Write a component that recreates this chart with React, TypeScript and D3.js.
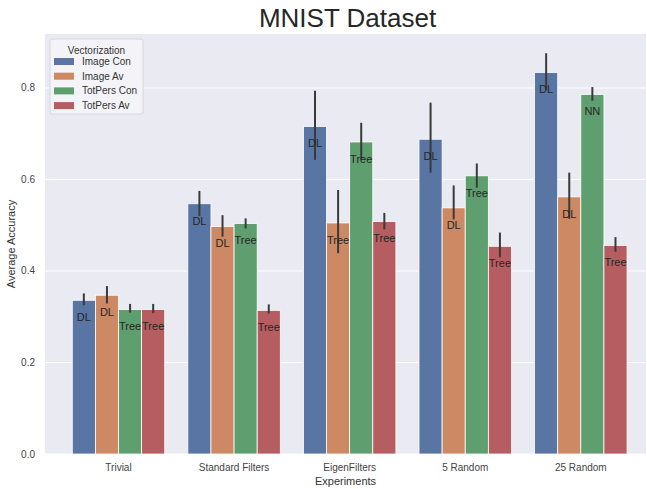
import React from 'react';
import * as d3 from 'd3';

const experiments = ['Trivial', 'Standard Filters', 'EigenFilters', '5 Random', '25 Random'];
const vectorizations = ['Image Con', 'Image Av', 'TotPers Con', 'TotPers Av'];
const colors = ['#5975A4', '#CC8963', '#5F9E6E', '#B55D60'];

// mean accuracy per experiment, one array per vectorization
const imageCon = [0.336, 0.547, 0.716, 0.688, 0.834];
const imageAv = [0.347, 0.497, 0.505, 0.538, 0.562];
const totPersCon = [0.316, 0.504, 0.682, 0.608, 0.786];
const totPersAv = [0.316, 0.314, 0.508, 0.454, 0.456];

// confidence interval [low, high]
const imageConCi = [[0.325, 0.351], [0.520, 0.575], [0.643, 0.794], [0.615, 0.768], [0.796, 0.876]];
const imageAvCi = [[0.329, 0.367], [0.475, 0.522], [0.439, 0.577], [0.513, 0.587], [0.514, 0.615]];
const totPersConCi = [[0.309, 0.328], [0.493, 0.515], [0.644, 0.724], [0.582, 0.635], [0.772, 0.802]];
const totPersAvCi = [[0.308, 0.328], [0.307, 0.327], [0.491, 0.527], [0.430, 0.484], [0.442, 0.474]];

// best model labels
const imageConLbl = ['DL', 'DL', 'DL', 'DL', 'DL'];
const imageAvLbl = ['DL', 'DL', 'Tree', 'DL', 'DL'];
const totPersConLbl = ['Tree', 'Tree', 'Tree', 'Tree', 'NN'];
const totPersAvLbl = ['Tree', 'Tree', 'Tree', 'Tree', 'Tree'];

const yTicks = [0, 0.2, 0.4, 0.6, 0.8];

const W = 647;
const H = 489;
const m = { left: 45, right: 1, top: 34, bottom: 35 };

export default function App() {
  const ref = React.useRef<SVGSVGElement>(null);

  React.useEffect(() => {
    if (!ref.current) return;
    const svg = d3.select(ref.current);
    svg.selectAll('*').remove();

    const means = [imageCon, imageAv, totPersCon, totPersAv];
    const cis = [imageConCi, imageAvCi, totPersConCi, totPersAvCi];
    const lbls = [imageConLbl, imageAvLbl, totPersConLbl, totPersAvLbl];

    const x0 = d3.scaleBand<string>()
      .domain(experiments)
      .range([m.left, W - m.right])
      .paddingInner(0)
      .paddingOuter(0.1)
      .align(0.68);
    const x1 = d3.scaleBand<string>()
      .domain(vectorizations)
      .range([0, x0.bandwidth() * 0.8]);
    const y = d3.scaleLinear().domain([0, 0.918]).range([H - m.bottom, m.top]);

    const font = 'Arial, "Liberation Sans", sans-serif';

    svg.append('rect')
      .attr('x', m.left).attr('y', m.top)
      .attr('width', W - m.left - m.right).attr('height', H - m.top - m.bottom)
      .attr('fill', '#EAEAF2');

    svg.append('g')
      .selectAll('line')
      .data(yTicks)
      .join('line')
      .attr('x1', m.left).attr('x2', W - m.right)
      .attr('y1', d => y(d)).attr('y2', d => y(d))
      .attr('stroke', '#fff').attr('stroke-width', 1);

    svg.append('g')
      .selectAll('text')
      .data(yTicks)
      .join('text')
      .attr('x', 35).attr('y', d => y(d))
      .attr('dy', '0.35em')
      .attr('text-anchor', 'end')
      .attr('font-size', 10).attr('fill', '#444')
      .attr('font-family', font)
      .text(d => d.toFixed(1));

    svg.append('g')
      .selectAll('text')
      .data(experiments)
      .join('text')
      .attr('x', d => (x0(d) || 0) + x0.bandwidth() / 2)
      .attr('y', H - m.bottom + 17)
      .attr('text-anchor', 'middle')
      .attr('font-size', 10).attr('fill', '#444')
      .attr('font-family', font)
      .text(d => d);

    vectorizations.forEach((v, vi) => {
      const g = svg.append('g');
      const off = (e: string) => (x0(e) || 0) + x0.bandwidth() * 0.1 + (x1(v) || 0);
      g.selectAll('rect')
        .data(experiments)
        .join('rect')
        .attr('x', e => off(e))
        .attr('width', x1.bandwidth())
        .attr('y', (e, i) => y(means[vi][i]))
        .attr('height', (e, i) => y(0) - y(means[vi][i]))
        .attr('fill', colors[vi])
        .attr('stroke', '#fff').attr('stroke-width', 0.8);

      g.selectAll('line')
        .data(experiments)
        .join('line')
        .attr('x1', e => off(e) + x1.bandwidth() / 2)
        .attr('x2', e => off(e) + x1.bandwidth() / 2)
        .attr('y1', (e, i) => y(cis[vi][i][0]))
        .attr('y2', (e, i) => y(cis[vi][i][1]))
        .attr('stroke', '#3a3a3a').attr('stroke-width', 2);

      g.selectAll('text')
        .data(experiments)
        .join('text')
        .attr('x', e => off(e) + x1.bandwidth() / 2)
        .attr('y', (e, i) => y(means[vi][i]) + 17)
        .attr('dy', '0.35em')
        .attr('text-anchor', 'middle')
        .attr('font-size', 11).attr('fill', '#262626')
        .attr('font-family', font)
        .text((e, i) => lbls[vi][i]);
    });

    // axis titles
    svg.append('text')
      .attr('x', (m.left + W - m.right) / 2).attr('y', H - 4)
      .attr('text-anchor', 'middle')
      .attr('font-size', 11).attr('fill', '#333')
      .attr('font-family', font)
      .text('Experiments');
    svg.append('text')
      .attr('transform', `translate(15,${(m.top + H - m.bottom) / 2}) rotate(-90)`)
      .attr('text-anchor', 'middle')
      .attr('font-size', 11).attr('fill', '#333')
      .attr('font-family', font)
      .text('Average Accuracy');
    svg.append('text')
      .attr('x', (m.left + W - m.right) / 2 + 2).attr('y', 27)
      .attr('text-anchor', 'middle')
      .attr('font-size', 26).attr('fill', '#262626')
      .attr('font-family', font)
      .text('MNIST Dataset');

    // legend
    const lg = svg.append('g').attr('transform', 'translate(50,39)');
    lg.append('rect')
      .attr('width', 93).attr('height', 75).attr('rx', 2)
      .attr('fill', '#F3F3F8').attr('stroke', '#D6D6DE').attr('stroke-width', 1);
    lg.append('text')
      .attr('x', 46.5).attr('y', 11).attr('dy', '0.35em')
      .attr('text-anchor', 'middle')
      .attr('font-size', 10).attr('fill', '#333')
      .attr('font-family', font)
      .text('Vectorization');
    const items = lg.selectAll('g.item')
      .data(vectorizations)
      .join('g')
      .attr('class', 'item')
      .attr('transform', (d, i) => `translate(4,${22.5 + i * 14.7})`);
    items.append('rect')
      .attr('width', 20).attr('height', 7).attr('y', -3.5)
      .attr('fill', (d, i) => colors[i]);
    items.append('text')
      .attr('x', 28).attr('dy', '0.35em')
      .attr('font-size', 10).attr('fill', '#333')
      .attr('font-family', font)
      .text(d => d);
  }, []);

  return (
    <svg ref={ref} width={W} height={H} style={{ display: 'block', position: 'absolute', left: 0, top: 0, background: '#fff' }} />
  );
}
